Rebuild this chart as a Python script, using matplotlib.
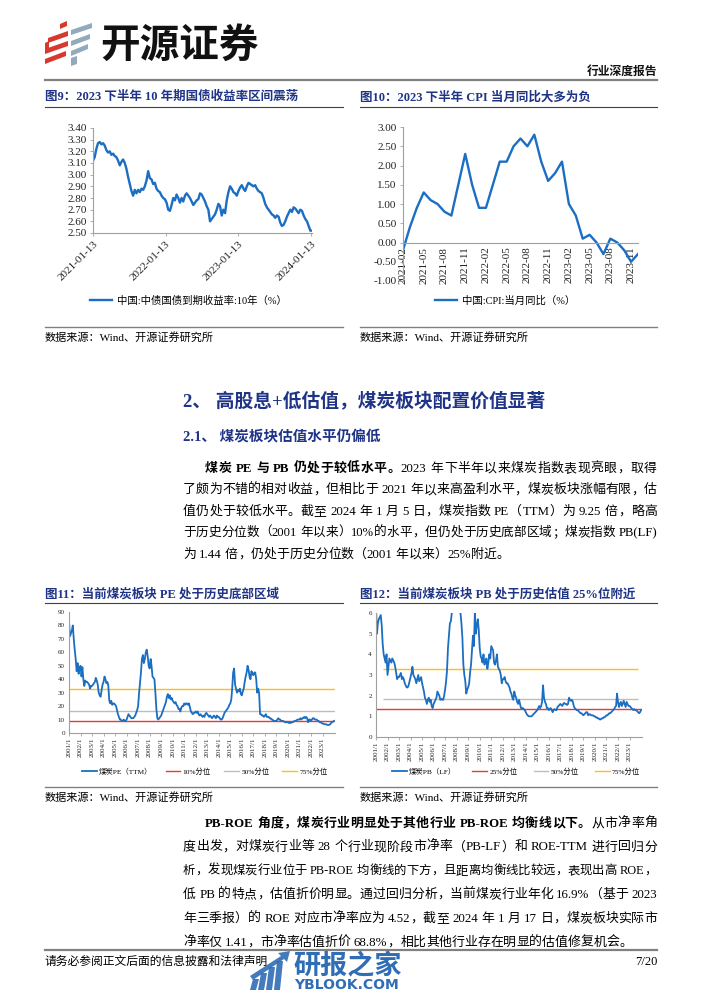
import re
import matplotlib
matplotlib.use('Agg')
import matplotlib.pyplot as plt
from matplotlib.patches import Polygon
from matplotlib.lines import Line2D
from matplotlib.font_manager import FontProperties
import numpy as np
import pandas as pd

# ---------------- data ----------------
bond_label = '中国:中债国债到期收益率:10年（%）'
bond_start, bond_end = '2021-01-13', '2024-01-18'
bond_ticks = ['2021-01-13', '2022-01-13', '2023-01-13', '2024-01-13']
bond_yield = [
    3.12, 3.15, 3.22, 3.27, 3.28, 3.26, 3.27, 3.25, 3.21, 3.19,
    3.20, 3.17, 3.18, 3.16, 3.15, 3.12, 3.08, 3.11, 3.13, 3.10,
    3.05, 2.98, 2.92, 2.86, 2.82, 2.87, 2.84, 2.87, 2.85, 2.88,
    2.87, 2.90, 2.95, 3.03, 2.97, 2.96, 2.92, 2.93, 2.88, 2.86,
    2.85, 2.82, 2.80, 2.79, 2.76, 2.70, 2.69, 2.74, 2.80, 2.78,
    2.83, 2.80, 2.76, 2.80, 2.77, 2.82, 2.84, 2.82, 2.80, 2.77,
    2.74, 2.76, 2.78, 2.79, 2.84, 2.83, 2.80, 2.77, 2.73, 2.70,
    2.60, 2.62, 2.64, 2.66, 2.70, 2.75, 2.73, 2.65, 2.70, 2.67,
    2.78, 2.85, 2.90, 2.88, 2.85, 2.84, 2.82, 2.86, 2.89, 2.91,
    2.88, 2.86, 2.90, 2.93, 2.92, 2.91, 2.90, 2.91, 2.88, 2.86,
    2.85, 2.84, 2.80, 2.75, 2.72, 2.70, 2.68, 2.66, 2.65, 2.63,
    2.65, 2.64, 2.59, 2.56, 2.57, 2.60, 2.64, 2.67, 2.70, 2.68,
    2.72, 2.71, 2.69, 2.67, 2.70, 2.69, 2.65, 2.62, 2.60, 2.56,
    2.52, 2.52]

cpi_label = '中国:CPI:当月同比（%）'
cpi_months = ['2021-02', '2021-03', '2021-04', '2021-05', '2021-06', '2021-07',
              '2021-08', '2021-09', '2021-10', '2021-11', '2021-12',
              '2022-01', '2022-02', '2022-03', '2022-04', '2022-05', '2022-06',
              '2022-07', '2022-08', '2022-09', '2022-10', '2022-11', '2022-12',
              '2023-01', '2023-02', '2023-03', '2023-04', '2023-05', '2023-06',
              '2023-07', '2023-08', '2023-09', '2023-10', '2023-11', '2023-12']
cpi_yoy = [-0.2, 0.4, 0.9, 1.3, 1.1, 1.0, 0.8, 0.7, 1.5, 2.3, 1.5,
           0.9, 0.9, 1.5, 2.1, 2.1, 2.5, 2.7, 2.5, 2.8, 2.1, 1.6, 1.8,
           2.1, 1.0, 0.7, 0.1, 0.2, 0.0, -0.3, 0.1, 0.0, -0.2, -0.5, -0.3]

series_start = '2001-01'
year_ticks = [f'{y}/1' for y in range(2001, 2024)]

pe_label = '煤炭PE（TTM）'
coal_pe = [
    83, 72, 74, 76, 80, 70, 62, 55, 46, 52, 44, 48,          # 2001
    50, 42, 49, 40, 35, 39, 38, 38, 37, 36, 33, 35,          # 2002
    35, 36, 37, 38, 41, 39, 36, 30, 28, 27, 32, 36,          # 2003
    38, 42, 40, 37, 38, 35, 24, 22, 24, 21, 22, 22,          # 2004
    21, 20, 17, 14, 12, 10, 10, 9, 9, 10, 9, 9,              # 2005
    10, 12, 14, 13, 12, 11, 11, 11, 12, 13, 15, 17,          # 2006
    20, 30, 37, 45, 55, 58, 52, 55, 60, 62, 57, 50,          # 2007
    48, 55, 50, 42, 41, 40, 30, 18, 11, 10, 11, 12,          # 2008
    13, 15, 17, 19, 21, 23, 27, 29, 26, 28, 25, 26,          # 2009
    24, 23, 22, 23, 21, 20, 18, 18, 16, 19, 20, 20,          # 2010
    22, 21, 22, 22, 21, 22, 19, 16, 15, 14, 15, 15,          # 2011
    16, 15, 16, 14, 13, 14, 13, 12, 13, 12, 14, 15,          # 2012
    14, 13, 12, 13, 12, 11, 12, 13, 12, 11, 13, 12,          # 2013
    12, 11, 10, 10, 11, 13, 15, 16, 17, 18, 19, 21,          # 2014
    22, 25, 33, 45, 48, 36, 33, 30, 32, 31, 33, 29,          # 2015
    28, 31, 33, 38, 42, 45, 50, 47, 42, 40, 46, 44,          # 2016
    43, 45, 45, 40, 30, 33, 30, 14, 14, 13, 13, 12,          # 2017
    13, 14, 12, 12, 12, 11, 11, 10, 10, 9, 9, 9,             # 2018
    9, 10, 11, 10, 10, 9, 9, 9, 8.5, 8, 8, 8,                # 2019
    8, 7.5, 7.5, 7.5, 8, 8, 8.5, 9, 9, 9.5, 10, 10,          # 2020
    10, 11, 10, 11, 11, 12, 11, 12, 11, 8, 10, 10,           # 2021
    9, 10, 11, 11, 10, 10, 10, 9, 9, 8, 8, 7.5,              # 2022
    7, 7, 6.5, 6.5, 6.5, 6, 6, 6, 6.5, 7.5, 8, 8.5,          # 2023
    9]                                                       # 2024
pe_pct_labels = ['10%分位', '50%分位', '75%分位']
pe_pct_values = [8.6, 16.2, 33.0]

pb_label = '煤炭PB（LF）'
coal_pb = [
    6.3, 5.0, 5.5, 5.7, 5.8, 5.9, 5.4, 4.5, 4.0, 3.8, 3.6, 4.0,
    3.0, 3.4, 3.8, 3.7, 3.6, 3.8, 3.7, 3.6, 3.4, 3.1, 2.8, 2.9,
    2.9, 3.0, 3.1, 2.8, 2.9, 2.8, 2.6, 2.5, 2.4, 2.4, 2.5, 2.7,
    2.9, 3.1, 3.4, 3.0, 2.9, 2.8, 2.6, 2.8, 3.0, 2.7, 2.8, 2.9,
    2.6, 2.4, 2.2, 1.9, 1.8, 1.6, 1.8, 1.9, 1.7, 1.8, 1.5, 1.4,
    1.6, 1.7, 1.8, 1.9, 2.2, 2.1, 2.0, 1.8, 1.85, 1.8, 1.8, 2.0,
    2.3, 2.7, 3.2, 4.3, 4.9, 5.5, 5.6, 6.0, 6.8, 7.5, 7.8, 7.2,
    7.0, 6.8, 6.5, 6.2, 6.0, 5.5, 4.8, 3.5, 3.0, 2.7, 2.1, 2.3,
    2.4, 2.6, 3.1, 3.5, 4.2, 4.9, 4.4, 6.0, 5.0, 5.4, 5.7, 5.2,
    4.3, 3.9, 3.8, 3.6, 4.0, 3.5, 3.6, 3.8, 3.3, 3.6, 4.0, 3.8,
    4.4, 4.3, 4.2, 3.6, 3.5, 3.7, 4.0, 3.4, 3.3, 3.2, 3.0, 2.6,
    2.8, 2.8, 2.9, 2.7, 2.6, 2.6, 2.5, 2.4, 2.2, 2.1, 1.9, 1.8,
    2.2, 2.0, 1.9, 1.7, 1.6, 1.8, 1.6, 1.4, 1.4, 1.4, 1.35, 1.3,
    1.2, 1.1, 1.05, 1.0, 1.0, 1.0, 1.0, 1.05, 1.1, 1.15, 1.2, 1.25,
    1.3, 1.4, 1.5, 1.4, 1.5, 1.7, 2.5, 1.9, 1.7, 1.6, 1.4, 1.4,
    1.3, 1.35, 1.4, 1.3, 1.2, 1.3, 1.35, 1.3, 1.3, 1.45, 1.5, 1.55,
    1.6, 1.55, 1.5, 1.6, 1.65, 1.6, 1.6, 1.55, 1.6, 1.9, 1.8, 1.75,
    1.8, 1.7, 1.5, 1.4, 1.35, 1.3, 1.3, 1.25, 1.2, 1.15, 1.15, 1.1,
    1.05, 1.1, 1.15, 1.2, 1.2, 1.05, 1.1, 1.1, 1.05, 1.05, 1.05, 1.0,
    1.0, 0.95, 0.95, 0.9, 0.9, 0.85, 0.85, 0.9, 0.9, 0.95, 0.95, 1.0,
    1.05, 1.05, 1.1, 1.15, 1.15, 1.2, 1.25, 1.3, 1.35, 1.45, 1.5, 2.1,
    1.7, 1.45, 1.6, 1.7, 1.5, 1.6, 1.75, 1.6, 1.45, 1.7, 1.6, 1.5,
    1.5, 1.45, 1.4, 1.35, 1.3, 1.35, 1.3, 1.3, 1.25, 1.2, 1.15, 1.2,
    1.3]
pb_pct_labels = ['25%分位', '50%分位', '75%分位']
pb_pct_values = [1.36, 1.84, 3.28]

# ---------------- style ----------------
W, H = 702, 991
BODY = ['Liberation Serif', 'Noto Sans CJK SC']
NAVY = '#1F3486'
BLUE = '#1B6EC2'
PCT_COLORS = ['#E8383B', '#BDBDBD', '#FFC107']
SPINE = '#A0A0A0'

fig = plt.figure(figsize=(W / 100, H / 100), dpi=100)
fig.patch.set_facecolor('white')


def fy(y):
    return 1 - y / H


def ax_px(l, t, r, b):
    return fig.add_axes([l / W, 1 - b / H, (r - l) / W, (b - t) / H])


def hline(x0, x1, y, color='#404040', lw=0.8):
    fig.add_artist(Line2D([x0 / W, x1 / W], [fy(y), fy(y)], color=color, lw=lw,
                          transform=fig.transFigure))


def poly(pts, color, alpha=1.0):
    fig.add_artist(Polygon([(x / W, fy(y)) for x, y in pts], closed=True,
                           transform=fig.transFigure, facecolor=color,
                           edgecolor='none', alpha=alpha))


def text(x, y, s, size, weight='normal', color='black', ha='left', family=BODY):
    return fig.text(x / W, fy(y), s, fontsize=size, fontweight=weight, color=color,
                    ha=ha, va='center', family=family)


def jline(pieces, x0, y, x1=None, size=9.3, color='black'):
    r = fig.canvas.get_renderer()

    def build(sz):
        base = fy(y + 0.36 * sz * 100 / 72)
        items = []
        for s, w in pieces:
            for tk in re.findall(r'[A-Za-z0-9.%()\-/:+]+| +|.', s):
                if tk.strip() == '':
                    items.append([None, 0.25 * sz * 100 / 72 * len(tk)])
                else:
                    t = fig.text(0, base, tk, fontsize=sz, fontweight=w, family=BODY,
                                 color=color, va='baseline', ha='left')
                    items.append([t, t.get_window_extent(r).width])
        return items

    items = build(size)
    total = sum(wd for _, wd in items)
    if x1 is not None and total > (x1 - x0):
        for t, _ in items:
            if t is not None:
                t.remove()
        items = build(size * (x1 - x0) / total * 0.995)
        total = sum(wd for _, wd in items)
    gap = 0.0
    if x1 is not None and len(items) > 1:
        gap = (x1 - x0 - total) / (len(items) - 1)
    x = x0
    for t, wd in items:
        if t is not None:
            t.set_x(x / W)
        x += wd + gap


def style_axes(ax, tick_size):
    for s in ['top', 'right']:
        ax.spines[s].set_visible(False)
    for s in ['left', 'bottom']:
        ax.spines[s].set_color(SPINE)
        ax.spines[s].set_linewidth(0.8)
    ax.tick_params(axis='both', length=2.5, width=0.6, color=SPINE, pad=2,
                   labelsize=tick_size, labelcolor='#222222')
    for lab in ax.get_xticklabels() + ax.get_yticklabels():
        lab.set_family(BODY)
    ax.set_facecolor('none')


# ---------------- header ----------------
for pts in [[(60, 24), (67, 21), (67, 26), (60, 29)],
            [(48, 38), (68, 31), (68, 36), (48, 43)],
            [(45, 49), (68, 41), (68, 46), (45, 54)],
            [(45, 59), (66, 51), (66, 56), (45, 64)],
            [(45, 43), (49, 41), (49, 50), (45, 52)]]:
    poly(pts, '#D9382E')
for pts in [[(71, 30), (92, 23), (92, 28), (71, 35)],
            [(71, 41), (90, 34), (90, 39), (71, 46)],
            [(71, 51), (88, 44), (88, 49), (71, 56)],
            [(71, 58), (77, 56), (77, 64), (71, 66)]]:
    poly(pts, '#93AABD')
text(100, 45, '开源证券', 28.5, 'heavy', '#111111', family=['Noto Sans CJK SC'])
text(657, 72, '行业深度报告', 8.5, 'bold', '#111111', ha='right')
hline(45, 657, 80, '#808080', 1.6)

# ---------------- figure titles ----------------
text(45, 97, '图9：2023 下半年 10 年期国债收益率区间震荡', 9, 'bold', NAVY)
text(360, 97, '图10：2023 下半年 CPI 当月同比大多为负', 9, 'bold', NAVY)
hline(45, 343, 107)
hline(360, 657, 107)

# ---------------- chart 1: bond yield ----------------
ax1 = ax_px(93, 128, 312, 233)
d1 = pd.date_range(bond_start, bond_end, periods=len(bond_yield))
l1, = ax1.plot(d1, bond_yield, color=BLUE, lw=1.7)
ax1.set_xlim(d1[0], d1[-1])
ax1.set_ylim(2.5, 3.4)
yt1 = np.round(np.arange(2.5, 3.401, 0.1), 2)
ax1.set_yticks(yt1)
ax1.set_yticklabels([f'{v:.2f}' for v in yt1])
ax1.set_xticks(pd.to_datetime(bond_ticks))
ax1.set_xticklabels(bond_ticks, rotation=45, ha='right', rotation_mode='anchor')
style_axes(ax1, 8)
ax1.legend([l1], [bond_label], loc='center left', bbox_to_anchor=(90 / W, fy(301)),
           bbox_transform=fig.transFigure, frameon=False, borderpad=0, borderaxespad=0,
           handlelength=2.1, handletextpad=0.5,
           prop=FontProperties(family=BODY, size=7.5))

# ---------------- chart 2: CPI ----------------
ax2 = ax_px(403, 127, 638, 281)
x2 = np.arange(len(cpi_yoy))
l2, = ax2.plot(x2, cpi_yoy, color=BLUE, lw=1.7)
ax2.set_xlim(0, len(cpi_yoy) - 1)
ax2.set_ylim(-1, 3)
yt2 = np.round(np.arange(-1.0, 3.01, 0.5), 2)
ax2.set_yticks(yt2)
ax2.set_yticklabels([f'{v:.2f}' for v in yt2])
ax2.spines['bottom'].set_position(('data', 0))
ax2.set_xticks(x2[::3])
ax2.set_xticklabels(cpi_months[::3], rotation=90, ha='center', va='top')
style_axes(ax2, 8)
ax2.tick_params(axis='x', length=0, pad=3)
ax2.legend([l2], [cpi_label], loc='center left', bbox_to_anchor=(435 / W, fy(301)),
           bbox_transform=fig.transFigure, frameon=False, borderpad=0, borderaxespad=0,
           handlelength=2.1, handletextpad=0.5,
           prop=FontProperties(family=BODY, size=7.5))

# ---------------- sources ----------------
hline(45, 343, 327, '#808080', 1.0)
hline(360, 657, 327, '#808080', 1.0)
text(45, 337, '数据来源：Wind、开源证券研究所', 8)
text(360, 337, '数据来源：Wind、开源证券研究所', 8)

# ---------------- section text 1 ----------------
text(183, 401, '2、 高股息+低估值，煤炭板块配置价值显著', 13.5, 'bold', NAVY)
text(183, 437, '2.1、 煤炭板块估值水平仍偏低', 10.5, 'bold', NAVY)
L, R = 183, 657
para1 = [
    ([('煤炭 PE 与 PB 仍处于较低水平。', 'bold'), ('2023 年下半年以来煤炭指数表现亮眼，取得', 'normal')], 205, R),
    ([('了颇为不错的相对收益，但相比于 2021 年以来高盈利水平，煤炭板块涨幅有限，估', 'normal')], L, R),
    ([('值仍处于较低水平。截至 2024 年 1 月 5 日，煤炭指数 PE（TTM）为 9.25 倍，略高', 'normal')], L, R),
    ([('于历史分位数（2001 年以来）10%的水平，但仍处于历史底部区域；煤炭指数 PB(LF)', 'normal')], L, R),
    ([('为 1.44 倍，仍处于历史分位数（2001 年以来）25%附近。', 'normal')], L, None),
]
for i, (pcs, x0, x1) in enumerate(para1):
    jline(pcs, x0, 467 + i * 21.5, x1)

# ---------------- figure titles 11/12 ----------------
text(45, 594, '图11：当前煤炭板块 PE 处于历史底部区域', 9, 'bold', NAVY)
text(360, 594, '图12：当前煤炭板块 PB 处于历史估值 25%位附近', 9, 'bold', NAVY)
hline(45, 343, 603)
hline(360, 657, 603)

ytick_dates = pd.to_datetime([f'{y}-01-01' for y in range(2001, 2024)])
xl = (pd.Timestamp('2001-01-01'), pd.Timestamp('2024-02-01'))

# ---------------- chart 3: PE ----------------
ax3 = ax_px(69, 612, 335, 733)
d3 = pd.date_range(series_start, periods=len(coal_pe), freq='MS')
l3, = ax3.plot(d3, coal_pe, color=BLUE, lw=1.3)
h3 = [ax3.axhline(v, color=c, lw=1.0, zorder=1) for v, c in zip(pe_pct_values, PCT_COLORS)]
ax3.set_xlim(*xl)
ax3.set_ylim(0, 90)
ax3.set_yticks(range(0, 91, 10))
ax3.set_xticks(ytick_dates)
ax3.set_xticklabels(year_ticks, rotation=90, ha='center', va='top')
style_axes(ax3, 5)
ax3.tick_params(axis='x', length=2, pad=1.5)
ax3.tick_params(axis='y', length=0, pad=3)
ax3.legend([l3] + h3, [pe_label] + pe_pct_labels, loc='center left', ncol=4,
           bbox_to_anchor=(82 / W, fy(771)), bbox_transform=fig.transFigure,
           frameon=False, borderpad=0, borderaxespad=0, handlelength=2.0,
           handletextpad=0.3, columnspacing=1.8,
           prop=FontProperties(family=BODY, size=5.3))

# ---------------- chart 4: PB ----------------
ax4 = ax_px(376, 613, 642, 737)
d4 = pd.date_range(series_start, periods=len(coal_pb), freq='MS')
l4, = ax4.plot(d4, coal_pb, color=BLUE, lw=1.3)
h4 = [ax4.axhline(pb_pct_values[0], color=PCT_COLORS[0], lw=1.0, zorder=1)]
for v, c in zip(pb_pct_values[1:], PCT_COLORS[1:]):
    h4.append(ax4.hlines(v, pd.Timestamp('2001-08-01'), pd.Timestamp('2023-10-01'),
                         color=c, lw=1.0, zorder=1))
ax4.set_xlim(*xl)
ax4.set_ylim(0, 6)
ax4.set_yticks(range(0, 7))
ax4.set_xticks(ytick_dates)
ax4.set_xticklabels(year_ticks, rotation=90, ha='center', va='top')
style_axes(ax4, 5)
ax4.tick_params(axis='x', length=2, pad=1.5)
ax4.tick_params(axis='y', length=0, pad=3)
leg_h4 = [l4] + [Line2D([], [], color=c, lw=1.0) for c in PCT_COLORS]
ax4.legend(leg_h4, [pb_label] + pb_pct_labels, loc='center left', ncol=4,
           bbox_to_anchor=(392 / W, fy(771)), bbox_transform=fig.transFigure,
           frameon=False, borderpad=0, borderaxespad=0, handlelength=2.0,
           handletextpad=0.3, columnspacing=2.2,
           prop=FontProperties(family=BODY, size=5.3))

hline(45, 343, 787, '#808080', 1.0)
hline(360, 657, 787, '#808080', 1.0)
text(45, 797, '数据来源：Wind、开源证券研究所', 8)
text(360, 797, '数据来源：Wind、开源证券研究所', 8)

# ---------------- section text 2 ----------------
para2 = [
    ([('PB-ROE 角度，煤炭行业明显处于其他行业 PB-ROE 均衡线以下。', 'bold'), ('从市净率角', 'normal')], 205, R),
    ([('度出发，对煤炭行业等 28 个行业现阶段市净率（PB-LF）和 ROE-TTM 进行回归分', 'normal')], L, R),
    ([('析，发现煤炭行业位于 PB-ROE 均衡线的下方，且距离均衡线比较远，表现出高 ROE，', 'normal')], L, R),
    ([('低 PB 的特点，估值折价明显。通过回归分析，当前煤炭行业年化 16.9%（基于 2023', 'normal')], L, R),
    ([('年三季报）的 ROE 对应市净率应为 4.52，截至 2024 年 1 月 17 日，煤炭板块实际市', 'normal')], L, R),
    ([('净率仅 1.41，市净率估值折价 68.8%，相比其他行业存在明显的估值修复机会。', 'normal')], L, None),
]
for i, (pcs, x0, x1) in enumerate(para2):
    jline(pcs, x0, 822 + i * 23.8, x1)

# ---------------- footer ----------------
hline(45, 657, 950, '#808080', 1.6)
text(45, 962, '请务必参阅正文后面的信息披露和法律声明', 8.5)
text(657, 962, '7/20', 9, ha='right')

# watermark
WM = '#2F6DB5'
for x, h in [(250, 11), (258, 17), (266, 23), (274, 29)]:
    poly([(x, 990), (x + 6, 990), (x + 9, 990 - h), (x + 3, 990 - h)], WM, 0.9)
poly([(250, 976), (281, 956), (278, 953), (290, 951), (287, 962), (284, 959), (253, 980)], WM, 0.9)
text(293, 965, '研报之家', 19.5, 'bold', WM, family=['Noto Sans CJK SC'])
text(294, 985, 'YBLOOK.COM', 10, 'bold', WM, family=['DejaVu Sans'])

fig.savefig('out.png', dpi=100, facecolor='white')
